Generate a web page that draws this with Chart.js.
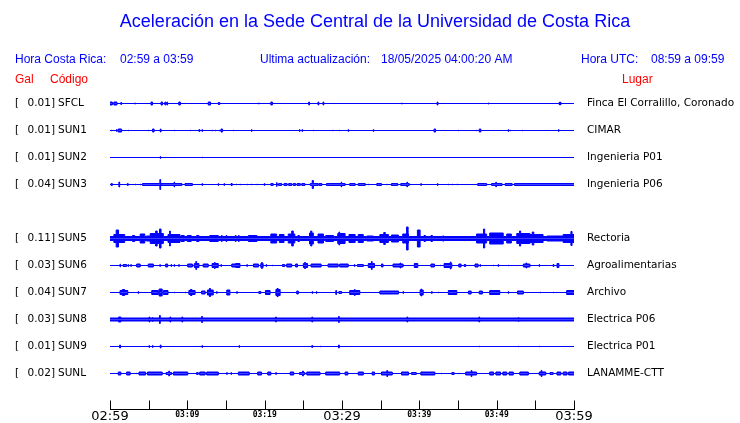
<!DOCTYPE html>
<html>
<head>
<meta charset="utf-8">
<script src="https://cdn.jsdelivr.net/npm/chart.js@4.4.1/dist/chart.umd.min.js"></script>
<style>
html,body{margin:0;padding:0;background:#fff;}
#wrap{width:740px;height:423px;}
</style>
</head>
<body>
<div id="wrap"><canvas id="c" width="740" height="423"></canvas></div>
<script>
// ---------- DATA ----------
const titleText = 'Aceleración en la Sede Central de la Universidad de Costa Rica';
const horaCR = '02:59 a 03:59';
const horaUTC = '08:59 a 09:59';
const ultima = '18/05/2025 04:00:20 AM';

const codes = ['SFCL','SUN1','SUN2','SUN3','SUN5','SUN6','SUN7','SUN8','SUN9','SUNL'];
const galValues = [0.01,0.01,0.01,0.04,0.11,0.03,0.04,0.03,0.01,0.02];
const places = ['Finca El Corralillo, Coronado','CIMAR','Ingenieria P01','Ingenieria P06','Rectoria','Agroalimentarias','Archivo','Electrica P06','Electrica P01','LANAMME-CTT'];
// background (noise) half-amplitude of each trace
const noiseLevel = [0,0,0,0,2.5,0,0,2,0,0];

const tickMinutes = [0,5,10,15,20,25,30,35,40,45,50,55,60];
const tickLabelMinutes = [0,10,20,30,40,50,60];
const tickLabels = ['02:59','03:09','03:19','03:29','03:39','03:49','03:59'];

// events: [start minute, end minute, half-amplitude]
const evSFCL = [[0,0.3,2],[0.5,0.9,2],[1.4,1.5,1.5],[3.2,3.3,1],[5.3,5.5,2],[6.6,6.8,2],[7.1,7.2,2],[7.35,7.45,2],[8.9,9.1,2],[12.7,13.0,2],[14.0,14.2,1.5],[19.2,19.3,1],[20.8,21.0,2],[25.7,25.8,2],[26.9,27.0,2],[27.55,27.65,2],[37.7,37.8,1],[42.3,42.4,2],[48.9,49.0,1],[58.1,58.15,2],[58.25,58.3,2]];
const evSUN1 = [[0.2,0.25,1],[0.85,0.9,1.5],[1.05,1.5,2],[2.35,2.4,1],[4.95,5.0,1],[5.5,5.7,2],[6.5,6.6,2],[8.3,8.35,1],[10.4,10.45,1],[11.5,11.6,1.5],[11.9,11.95,1.5],[13.2,13.25,1],[13.6,13.65,1],[14.15,14.2,1],[14.35,14.55,2],[15.95,16.0,1],[18.3,18.35,1.5],[24.5,24.55,1.5],[24.85,24.9,1.5],[26.3,26.35,1],[28.8,28.85,1],[29.65,29.7,1],[30.8,30.85,1.5],[34.05,34.1,1.5],[41.9,42.1,2],[45.0,45.05,1],[47.4,47.45,1],[47.75,47.95,2],[51.5,51.55,1.5],[51.8,51.85,1],[53.3,53.35,1],[58.0,58.05,1.5]];
const evSUN2 = [[6.5,6.55,1.5],[11.9,11.95,1]];
const evSUN3 = [[0.15,0.3,1.5],[1.15,1.25,3],[2.25,2.35,1.5],[3.3,3.35,1],[3.9,3.95,1],[4.2,6.45,1.5],[6.45,6.55,5.5],[6.6,9.3,1.5],[8.3,8.35,3],[9.7,10.65,1.5],[11.9,11.95,1.5],[14.0,14.05,1.5],[14.75,14.8,1.5],[15.65,15.8,1.5],[16.3,16.35,1],[16.8,16.85,1],[17.7,17.75,1],[18.25,18.3,1],[19.0,19.05,1],[19.95,20.0,1.5],[20.8,21.1,1.5],[21.55,21.6,2.5],[21.8,22.2,1.5],[22.5,22.9,1.5],[23.1,23.5,1.5],[23.7,24.0,1.5],[24.2,24.6,1.5],[24.8,25.2,1.5],[25.9,26.9,1.5],[26.15,26.3,4.5],[27.0,27.4,1.5],[28.0,30.4,1.5],[29.9,29.95,3],[31.0,31.7,1.5],[32.1,33.0,1.5],[33.4,33.45,1],[34.5,35.1,1.5],[35.8,35.85,1],[36.4,37.2,1.5],[37.6,38.7,1.5],[38.4,38.45,3],[40.2,40.25,1.5],[42.35,42.4,1.5],[43.75,43.8,1],[44.25,44.3,1],[44.95,45.0,1],[47.55,48.7,1.5],[49.35,50.7,1.5],[49.9,49.95,3],[51.1,52.0,1.5],[52.3,60,1.5]];
const evSUN5 = [[0.5,1.9,4.5],[0.8,1.1,9],[2.9,3.2,3.5],[3.9,4.5,5],[4.7,5.2,3],[5.2,6.9,5.5],[5.9,6.1,8],[6.4,6.6,10],[7.5,9.05,4.5],[7.7,7.8,8],[9.2,9.6,3.5],[10.0,10.5,3.5],[11.2,11.5,3.5],[12.9,14.0,3.5],[14.4,14.5,3.5],[15.0,15.1,3.5],[16.2,16.3,3.5],[16.6,16.7,3.5],[17.9,19.0,3.5],[20.8,21.55,5],[21.9,22.5,4.5],[23.05,23.9,5],[23.5,23.7,8],[24.3,24.5,3.5],[25.8,26.3,6],[25.95,26.1,8],[26.9,27.6,5],[27.9,28.9,3.5],[29.45,30.4,5.5],[29.6,29.7,7],[30.9,31.7,4.5],[32.1,32.75,4.5],[33.2,34.05,3],[34.9,36.0,4.5],[35.4,35.6,6.5],[36.4,37.3,4],[37.85,38.6,5],[38.35,38.55,12],[39.75,40.1,9],[40.6,40.8,3.5],[41.5,41.7,3.5],[43.0,43.2,3],[47.4,48.7,5],[48.3,48.45,10],[49.1,50.85,6],[51.3,51.9,5],[52.6,54.3,5.5],[52.95,53.1,8],[54.3,56.0,4.5],[54.6,54.8,7],[56.5,58.6,3],[58.6,60,4.5],[59.6,59.75,7.5]];
const evSUN6 = [[1.3,1.35,2],[1.7,2.15,1.5],[2.35,2.4,1.5],[2.7,2.75,1.5],[3.45,3.9,2],[4.95,5.6,2],[6.45,6.5,1.5],[7.2,7.45,2],[7.9,7.95,1.5],[8.3,8.35,1.5],[8.9,8.95,1.5],[10.05,10.65,2],[10.9,11.5,2.5],[11.1,11.2,4.5],[12.05,12.7,2],[13.2,14.0,2.5],[13.5,13.6,3.5],[14.35,14.4,1.5],[15.75,16.25,2],[16.25,16.8,2.5],[17.7,17.75,1.5],[18.55,19.2,2],[19.5,19.8,2.5],[19.6,19.7,3.5],[20.2,20.25,1.5],[21.0,21.05,1],[22.3,22.6,1.5],[22.85,23.5,2],[24.0,24.25,2],[25.0,25.55,2.5],[25.15,25.3,3.5],[26.0,27.3,2],[28.2,29.5,2],[29.7,30.8,2],[31.6,31.65,1.5],[32.0,32.75,1.5],[33.4,34.2,2.5],[33.8,33.9,4.5],[35.1,35.3,2],[36.6,37.9,2],[37.5,37.6,3],[39.35,39.8,2.5],[41.5,41.95,2],[42.7,42.75,1],[43.2,44.2,2.5],[44.0,44.1,4],[45.1,45.4,2],[45.8,46.0,1.5],[47.2,47.6,2],[47.85,47.9,1.5],[49.6,49.65,1],[50.2,50.25,1.5],[51.5,51.55,1],[53.45,54.3,2],[53.8,53.9,3],[55.5,55.55,1.5],[57.3,57.4,1.5],[57.8,58.05,2.5]];
const evSUN7 = [[1.3,2.3,2.5],[1.6,1.9,3.5],[3.65,3.7,1.5],[5.4,6.25,2.5],[6.35,6.75,4],[6.9,7.5,2.5],[8.3,8.35,1],[9.7,9.75,1],[10.2,11.0,2.5],[10.4,10.6,3.5],[11.85,12.3,2],[12.6,13.35,3],[12.85,13.0,4.5],[13.8,13.85,1.5],[15.1,15.5,3],[16.4,16.45,1.5],[19.25,19.5,1.5],[20.1,20.7,2.5],[21.45,22.0,3.5],[21.6,21.75,4.5],[24.15,24.35,2],[26.15,26.2,1.5],[26.7,26.75,1.5],[29.2,29.3,2.5],[29.6,29.95,1.5],[31.0,32.3,2.5],[31.6,31.7,3.5],[34.9,37.3,2],[37.9,37.95,1.5],[40.1,40.5,3],[40.2,40.3,4],[41.6,41.65,1.5],[42.45,42.5,1],[43.75,44.85,2.5],[46.35,46.7,2],[47.75,48.15,2],[49.1,50.4,2.5],[51.5,51.55,1.5],[52.7,53.45,2],[55.6,55.65,1],[57.3,57.35,1],[59.05,60,2.5]];
const evSUN8 = [[1.1,1.4,3],[5.05,5.15,3],[5.5,5.55,2.5],[6.4,6.5,4.5],[7.75,7.85,3],[9.3,9.4,3],[11.85,11.95,3.5],[21.4,21.5,3],[26.1,26.2,3],[29.55,29.65,3.5],[38.4,38.5,3],[47.7,47.8,3],[52.8,52.85,2.5]];
const evSUN9 = [[1.25,1.35,2],[5.05,5.1,1.5],[5.5,5.55,1.5],[6.5,6.6,2],[11.9,11.95,1.5],[16.7,16.75,1.5],[26.1,26.2,1.5],[27.2,27.25,1],[29.55,29.65,2],[47.75,47.8,1],[52.8,52.85,1],[55.5,55.55,1]];
const evSUNL = [[1.07,1.4,2],[2.15,2.6,2],[3.45,3.5,1],[3.75,4.6,2],[4.85,6.75,2],[7.25,7.95,1.5],[7.6,7.7,3],[8.2,10.05,2],[11.2,11.4,1.5],[11.6,12.3,2],[12.5,14.0,2],[15.1,15.15,1.5],[15.65,15.7,1.5],[16.6,18.0,2],[19.1,19.6,2],[20.4,20.8,2],[21.45,21.5,1.5],[23.3,23.75,2],[24.5,25.2,1.5],[24.9,25.0,3],[25.45,27.15,2],[27.9,29.7,2],[30.4,30.75,2],[32.1,32.75,2],[33.9,34.2,2],[35.1,36.5,2],[35.8,35.9,3.5],[37.7,38.6,2],[39.0,39.6,1.5],[40.2,42.0,2],[42.8,42.85,1],[44.2,44.5,1.5],[45.1,45.15,1],[46.0,47.4,2],[46.7,46.8,3.5],[49.1,49.6,2],[49.9,50.5,2],[50.8,51.3,2],[51.6,52.15,2],[53.0,54.1,2],[55.5,56.35,2],[55.75,55.85,3.5],[56.9,57.3,1.5],[57.8,58.3,2],[58.6,59.1,2],[59.3,60,2]];
const stationEvents = [evSFCL,evSUN1,evSUN2,evSUN3,evSUN5,evSUN6,evSUN7,evSUN8,evSUN9,evSUNL];

// ---------- LAYOUT / BUILD ----------
const BLUE = '#0000ff', RED = '#ff0000';
const ROW = 27;
const STROKE = 1;                      // trace line width (px = y units)
function slotOf(i){ return i < 4 ? i : i + 1; }   // blank row after SUN3
function baseOf(i){ return -ROW * slotOf(i); }

// step envelope: amplitude held from each edge to the next edge
function contour(events, noise){
  const edges = new Set([0,60]);
  events.forEach(e => { edges.add(e[0]); edges.add(e[1]); });
  const xs = [...edges].sort((a,b) => a-b);
  const pts = [];
  for (let k = 0; k < xs.length; k++){
    let a = noise;
    if (k < xs.length - 1){
      const mid = (xs[k] + xs[k+1]) / 2;
      events.forEach(e => { if (e[0] <= mid && mid <= e[1]) a = Math.max(a, e[2]); });
    } else {
      a = pts[pts.length-1].a;
    }
    pts.push({t: xs[k], a});
  }
  return pts;
}

const datasets = [];
stationEvents.forEach((ev, i) => {
  const base = baseOf(i);
  const pts = contour(ev, noiseLevel[i]);
  [1,-1].forEach(sign => {
    datasets.push({
      label: codes[i] + (sign > 0 ? '+' : '-'),
      // half of the stroke already adds to the visible height
      data: pts.map(p => ({x: p.t, y: base + sign * Math.max(0, p.a - STROKE / 2)})),
      stepped: 'before',
      borderColor: BLUE,
      backgroundColor: BLUE,
      borderWidth: STROKE,
      pointRadius: 0,
      fill: {value: base},
      tension: 0
    });
  });
});

const textPlugin = {
  id: 'seisText',
  afterDraw(chart){
    const ctx = chart.ctx;
    const xs = chart.scales.x, ys = chart.scales.y;
    ctx.save();
    ctx.textBaseline = 'middle';
    // title
    ctx.fillStyle = BLUE;
    ctx.font = '18px "Liberation Sans", Arial, sans-serif';
    ctx.textAlign = 'center';
    ctx.fillText(titleText, 375, 22);
    // header
    ctx.font = '12px "Liberation Sans", Arial, sans-serif';
    ctx.textAlign = 'left';
    ctx.fillText('Hora Costa Rica:', 15, 60);
    ctx.fillText(horaCR, 120, 60);
    ctx.fillText('Ultima actualización:', 260, 60);
    ctx.fillText(ultima, 381, 60);
    ctx.fillText('Hora UTC:', 581, 60);
    ctx.fillText(horaUTC, 651, 60);
    ctx.fillStyle = RED;
    ctx.fillText('Gal', 15, 80);
    ctx.fillText('Código', 50, 80);
    ctx.fillText('Lugar', 622, 80);
    // station labels
    ctx.fillStyle = '#000';
    ctx.font = '10.5px "DejaVu Sans", sans-serif';
    codes.forEach((c, i) => {
      const y = ys.getPixelForValue(baseOf(i));
      ctx.textAlign = 'left';
      ctx.fillText('[', 15, y);
      ctx.textAlign = 'right';
      ctx.fillText(galValues[i].toFixed(2) + ']', 55, y);
      ctx.textAlign = 'left';
      ctx.fillText(c, 58, y);
      ctx.fillText(places[i], 587, y);
    });
    // time axis
    const ay = 409.5;
    ctx.strokeStyle = '#000';
    ctx.lineWidth = 1;
    ctx.beginPath();
    ctx.moveTo(Math.round(xs.getPixelForValue(0)), ay);
    ctx.lineTo(Math.round(xs.getPixelForValue(60)) + 1, ay);
    tickMinutes.forEach(m => {
      const px = Math.round(xs.getPixelForValue(m)) + 0.5;
      ctx.moveTo(px, ay);
      ctx.lineTo(px, ay - 9);
    });
    ctx.stroke();
    ctx.fillStyle = '#000';
    ctx.textAlign = 'center';
    tickLabelMinutes.forEach((m, k) => {
      const px = xs.getPixelForValue(m);
      const big = (m % 30 === 0);
      ctx.font = big ? '13px "DejaVu Sans", sans-serif' : 'bold 8px "DejaVu Sans Mono", monospace';
      ctx.textBaseline = big ? 'middle' : 'top';
      ctx.fillText(tickLabels[k], px, big ? 417 : 411);
    });
    ctx.restore();
  }
};

new Chart(document.getElementById('c'), {
  type: 'line',
  data: { datasets },
  options: {
    responsive: false,
    animation: false,
    events: [],
    layout: { padding: { left: 110, right: 166, top: 88, bottom: 14 } },
    plugins: { legend: { display: false }, title: { display: false }, tooltip: { enabled: false } },
    scales: {
      x: { type: 'linear', min: 0, max: 60, display: false },
      y: { type: 'linear', min: -305.5, max: 15.5, display: false }
    }
  },
  plugins: [textPlugin]
});
</script>
</body>
</html>
